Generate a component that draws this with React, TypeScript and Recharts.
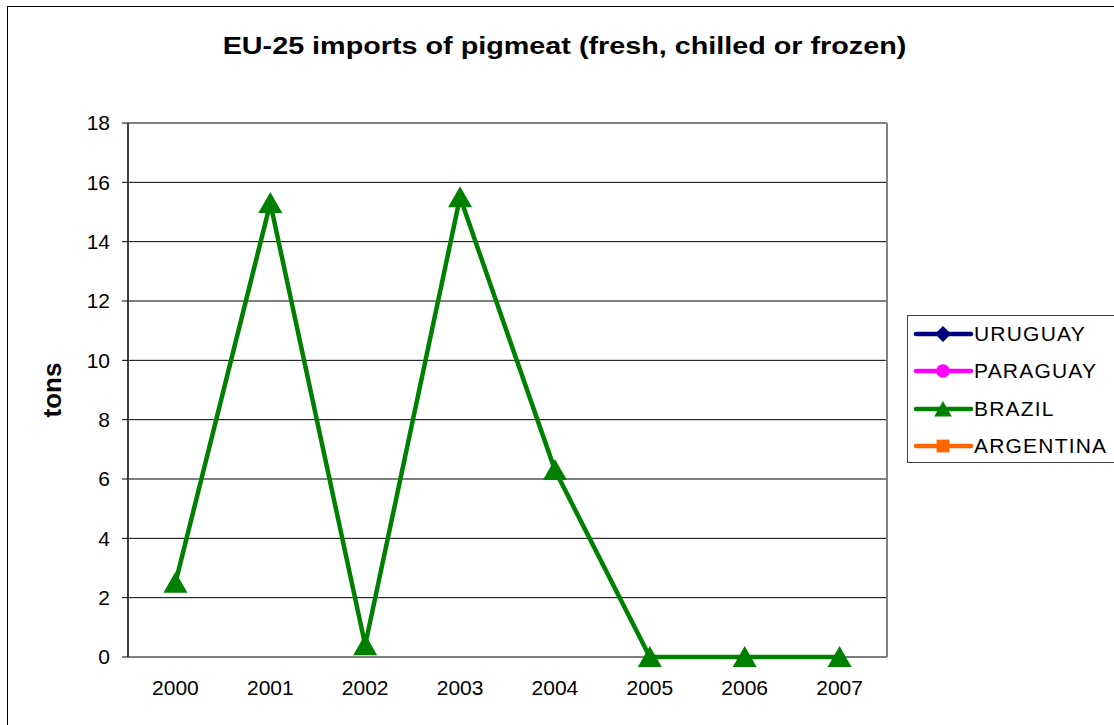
import { LineChart, Line, XAxis, YAxis, CartesianGrid, ReferenceLine } from "recharts";

const years = ["2000", "2001", "2002", "2003", "2004", "2005", "2006", "2007"];
const uruguay: (number | null)[] = [null, null, null, null, null, null, null, null];
const paraguay: (number | null)[] = [null, null, null, null, null, null, null, null];
const brazil: (number | null)[] = [2.5, 15.3, 0.4, 15.5, 6.3, 0, 0, 0];
const argentina: (number | null)[] = [null, null, null, null, null, null, null, null];
const yTicks = [0, 2, 4, 6, 8, 10, 12, 14, 16, 18];

const series = [
  { key: "uruguay", name: "URUGUAY", color: "#000080", shape: "diamond" },
  { key: "paraguay", name: "PARAGUAY", color: "#FF00FF", shape: "circle" },
  { key: "brazil", name: "BRAZIL", color: "#008000", shape: "triangle" },
  { key: "argentina", name: "ARGENTINA", color: "#FF6600", shape: "square" },
];

const data = years.map((y, i) => ({
  idx: i,
  year: y,
  uruguay: uruguay[i],
  paraguay: paraguay[i],
  brazil: brazil[i],
  argentina: argentina[i],
}));

const FONT = "'Liberation Sans', Arial, sans-serif";

const Marker = ({ shape, color, cx, cy, size }: { shape: string; color: string; cx: number; cy: number; size: number }) => {
  const h = size / 2;
  if (shape === "diamond")
    return <polygon points={`${cx},${cy - h} ${cx + h},${cy} ${cx},${cy + h} ${cx - h},${cy}`} fill={color} />;
  if (shape === "circle") return <circle cx={cx} cy={cy} r={h * 0.85} fill={color} />;
  if (shape === "square") return <rect x={cx - h * 0.8} y={cy - h * 0.8} width={h * 1.6} height={h * 1.6} fill={color} />;
  return <polygon points={`${cx},${cy - h} ${cx + h * 1.1},${cy + h * 0.95} ${cx - h * 1.1},${cy + h * 0.95}`} fill={color} />;
};

const TriangleDot = (props: any) => {
  const { cx, cy, payload } = props;
  if (cx == null || cy == null || payload.brazil == null) return <g key={props.key} />;
  return (
    <polygon
      key={props.key}
      points={`${cx},${cy - 11} ${cx + 12},${cy + 10} ${cx - 12},${cy + 10}`}
      fill="#008000"
    />
  );
};

const YearTick = (props: any) => {
  const { x, y, payload } = props;
  return (
    <text x={x} y={y} textAnchor="middle" dy="0.71em" fontSize={21} fill="#000" fontFamily={FONT}>
      {years[payload.value]}
    </text>
  );
};

export default function App() {
  return (
    <div style={{ position: "absolute", left: 0, top: 0, width: 1114, height: 725, overflow: "hidden", background: "#fff", fontFamily: FONT }}>
      <div style={{ position: "absolute", left: 7, top: 6, width: 1200, height: 800, border: "1px solid #000" }} />
      <div
        style={{
          position: "absolute",
          left: 0,
          top: 35,
          width: 1129,
          textAlign: "center",
          fontSize: 23,
          lineHeight: "23px",
          fontWeight: "bold",
          color: "#000",
          transform: "scaleX(1.25)",
          transformOrigin: "564.5px 50%",
        }}
      >
        EU-25 imports of pigmeat (fresh, chilled or frozen)
      </div>
      <div style={{ position: "absolute", left: 52, top: 390, transform: "translate(-50%,-50%) rotate(-90deg)", fontSize: 26, fontWeight: "bold", lineHeight: "26px", whiteSpace: "nowrap", color: "#000" }}>
        tons
      </div>
      <div style={{ position: "absolute", left: 0, top: 0 }}>
        <LineChart width={1114} height={725} data={data} margin={{ top: 123, right: 227, bottom: 28, left: 68 }}>
          <CartesianGrid vertical={false} stroke="#000" strokeWidth={1} />
          <XAxis
            xAxisId="edges"
            type="number"
            dataKey="idx"
            domain={[-0.5, 7.5]}
            ticks={[-0.5, 0.5, 1.5, 2.5, 3.5, 4.5, 5.5, 6.5, 7.5]}
            tickFormatter={() => ""}
            height={0}
            tickSize={6}
            axisLine={{ stroke: "#404040", strokeWidth: 2 }}
            tickLine={{ stroke: "#000" }}
          />
          <XAxis
            xAxisId="cat"
            type="number"
            dataKey="idx"
            domain={[-0.5, 7.5]}
            ticks={[0, 1, 2, 3, 4, 5, 6, 7]}
            height={40}
            tickSize={0}
            tickMargin={23}
            axisLine={false}
            tickLine={false}
            tick={<YearTick />}
          />
          <YAxis
            domain={[0, 18]}
            ticks={yTicks}
            width={60}
            tickSize={6}
            tickMargin={12}
            axisLine={{ stroke: "#404040", strokeWidth: 2 }}
            tickLine={{ stroke: "#000" }}
            tick={{ fontSize: 21, fill: "#000", fontFamily: FONT }}
          />
          <ReferenceLine xAxisId="cat" x={7.5} stroke="#808080" strokeWidth={2} />
          {series.map((s) => (
            <Line
              key={s.key}
              xAxisId="cat"
              dataKey={s.key}
              name={s.name}
              stroke={s.color}
              strokeWidth={4.5}
              dot={s.key === "brazil" ? <TriangleDot /> : false}
              activeDot={false}
              isAnimationActive={false}
              connectNulls={false}
            />
          ))}
        </LineChart>
      </div>
      <div style={{ position: "absolute", left: 907, top: 315, width: 260, height: 146, border: "1px solid #404040", background: "#fff" }}>
        {series.map((s, i) => (
          <div key={s.key} style={{ position: "absolute", left: 0, top: 18 + i * 37.3 - 15, height: 30, display: "flex", alignItems: "center" }}>
            <svg width={66} height={30} style={{ display: "block" }}>
              <line x1={8} y1={15} x2={63} y2={15} stroke={s.color} strokeWidth={4.5} strokeLinecap="round" />
              <Marker shape={s.shape} color={s.color} cx={35} cy={15} size={16} />
            </svg>
            <span style={{ fontSize: 21, letterSpacing: 1.2, color: "#000", whiteSpace: "nowrap" }}>{s.name}</span>
          </div>
        ))}
      </div>
    </div>
  );
}
